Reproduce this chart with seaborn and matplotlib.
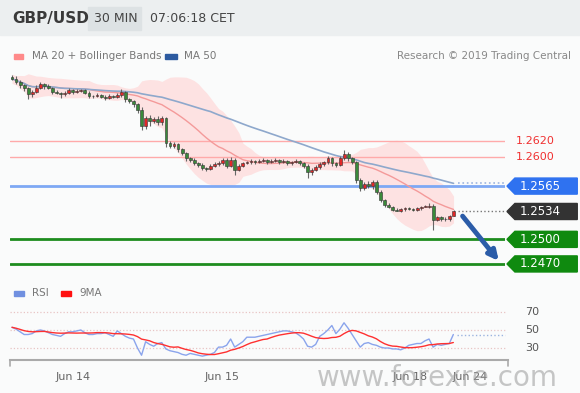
import matplotlib
matplotlib.use("Agg")
import matplotlib.pyplot as plt
import matplotlib.transforms as mtransforms
from matplotlib.patches import Rectangle, Polygon
import seaborn as sns
import numpy as np
import pandas as pd

sns.set_theme(style="white")
plt.rcParams["font.family"] = ["DejaVu Sans"]

# 30 min candles, GBP/USD
first_open = 1.2698
closes = [
    1.2696, 1.2692, 1.2688, 1.2685, 1.2677, 1.2680, 1.2685, 1.2690, 1.2687, 1.2685,
    1.2680, 1.2679, 1.2677, 1.2679, 1.2682, 1.2680, 1.2681, 1.2682, 1.2679, 1.2675,
    1.2675, 1.2676, 1.2674, 1.2672, 1.2675, 1.2674, 1.2676, 1.2680, 1.2671, 1.2669,
    1.2665, 1.2658, 1.2638, 1.2648, 1.2644, 1.2647, 1.2643, 1.2648, 1.2618, 1.2614,
    1.2616, 1.2610, 1.2605, 1.2599, 1.2597, 1.2593, 1.2591, 1.2587, 1.2586, 1.2590,
    1.2592, 1.2593, 1.2597, 1.2590, 1.2597, 1.2585, 1.2590, 1.2593, 1.2594, 1.2596,
    1.2594, 1.2596, 1.2597, 1.2594, 1.2596, 1.2597, 1.2594, 1.2596, 1.2593, 1.2594,
    1.2596, 1.2593, 1.2590, 1.2582, 1.2585, 1.2588, 1.2592, 1.2594, 1.2599, 1.2593,
    1.2591, 1.2599, 1.2604, 1.2599, 1.2594, 1.2572, 1.2563, 1.2568, 1.2565, 1.2570,
    1.2558, 1.2548, 1.2542, 1.2540, 1.2536, 1.2535, 1.2537, 1.2538, 1.2537, 1.2536,
    1.2538, 1.2540, 1.2540, 1.2541, 1.2524, 1.2527, 1.2525, 1.2525, 1.2529, 1.2534,
]
# wick lengths in pips above / below the body
wick_up = [
    2, 3, 2, 2, 1, 2, 3, 2, 1, 2,
    1, 2, 1, 2, 3, 1, 2, 2, 1, 2,
    1, 2, 1, 2, 2, 1, 2, 3, 1, 2,
    1, 2, 3, 2, 4, 2, 3, 2, 1, 2,
    3, 2, 2, 1, 2, 2, 1, 2, 1, 2,
    2, 3, 2, 2, 3, 2, 2, 1, 2, 2,
    1, 2, 2, 1, 2, 2, 1, 2, 1, 2,
    2, 1, 2, 2, 2, 3, 2, 2, 3, 2,
    2, 3, 5, 2, 2, 2, 3, 2, 3, 2,
    2, 2, 1, 2, 1, 2, 1, 2, 2, 1,
    2, 1, 2, 3, 2, 2, 1, 2, 1, 2,
]
wick_dn = [
    2, 2, 3, 4, 6, 3, 2, 2, 3, 2,
    3, 2, 4, 2, 2, 3, 2, 1, 2, 2,
    2, 1, 2, 2, 1, 2, 2, 2, 3, 2,
    3, 4, 5, 3, 6, 2, 3, 4, 5, 3,
    2, 3, 2, 3, 2, 2, 3, 2, 2, 1,
    2, 2, 2, 3, 2, 6, 2, 2, 1, 2,
    2, 1, 2, 2, 1, 2, 2, 1, 2, 2,
    1, 2, 3, 7, 3, 2, 2, 2, 2, 4,
    3, 2, 2, 3, 2, 3, 4, 3, 2, 3,
    3, 2, 3, 2, 2, 1, 2, 2, 1, 2,
    1, 2, 1, 2, 13, 2, 2, 2, 2, 1,
]
rsi = [
    53, 51, 48, 45, 45, 46, 49, 50, 49, 47,
    45, 44, 43, 46, 48, 48, 49, 50, 47, 45,
    45, 46, 46, 47, 45, 43, 49, 46, 43, 41,
    40, 30, 22, 37, 34, 32, 35, 36, 29, 27,
    26, 25, 23, 22, 24, 23, 22, 21, 22, 23,
    25, 31, 31, 33, 40, 31, 34, 37, 42, 42,
    42, 43, 44, 45, 46, 47, 48, 49, 49, 48,
    47, 44, 40, 32, 31, 34, 43, 46, 50, 55,
    46, 51, 58, 52, 45, 38, 31, 35, 36, 34,
    33, 31, 30, 30, 29, 29, 28, 30, 33, 34,
    35, 35, 38, 40, 31, 34, 33, 34, 35, 45,
]

resistances = [1.2620, 1.2600]
pivot = 1.2565
last_price = 1.2534
supports = [1.2500, 1.2470]
rsi_levels = [70, 50, 30]
date_labels = ["Jun 14", "Jun 15", "Jun 18", "Jun 24"]
date_pos = [15.1, 51.9, 98.3, 113.1]

GREEN_C = "#3a8a3a"
RED_C = "#e02828"
TAG_GREEN = "#0f8a0f"

df = pd.DataFrame({"close": closes})
df["open"] = [first_open] + closes[:-1]
df["high"] = df[["open", "close"]].max(axis=1) + np.array(wick_up) * 0.0001
df["low"] = df[["open", "close"]].min(axis=1) - np.array(wick_dn) * 0.0001
df["idx"] = np.arange(len(df))
df["ma20"] = df["close"].rolling(20, min_periods=1).mean()
sd = df["close"].rolling(20, min_periods=2).std().bfill()
df["bb_up"] = df["ma20"] + 2 * sd
df["bb_dn"] = df["ma20"] - 2 * sd
df["ma50"] = df["close"].rolling(50, min_periods=1).mean()
rs = pd.DataFrame({"idx": np.arange(len(rsi)), "rsi": rsi})
rs["ma9"] = rs["rsi"].rolling(9, min_periods=1).mean()

W, H = 580, 393
fig = plt.figure(figsize=(W / 100, H / 100), dpi=100)
fig.patch.set_facecolor("#fafbfb")

# header band
fig.patches.append(Rectangle((0, 1 - 35 / H), 1, 35 / H, transform=fig.transFigure,
                             color="#eceff0", zorder=0))
fig.patches.append(Rectangle((88 / W, 1 - 30 / H), 53 / W, 23 / H, transform=fig.transFigure,
                             color="#dde2e4", zorder=1))
fig.text(12 / W, 1 - 18 / H, "GBP/USD", fontsize=11, fontweight="bold", color="#3a3a3a", va="center")
fig.text(94 / W, 1 - 18 / H, "30 MIN", fontsize=9, color="#444", va="center")
fig.text(150 / W, 1 - 18 / H, "07:06:18 CET", fontsize=9, color="#444", va="center")

# legend row
fig.patches.append(Rectangle((14 / W, 1 - 59 / H), 9 / W, 5 / H, transform=fig.transFigure, color="#ff8a8a"))
fig.text(32 / W, 1 - 56 / H, "MA 20 + Bollinger Bands", fontsize=7.5, color="#777", va="center")
fig.patches.append(Rectangle((165 / W, 1 - 59 / H), 12 / W, 5 / H, transform=fig.transFigure, color="#2c5aa0"))
fig.text(184 / W, 1 - 56 / H, "MA 50", fontsize=7.5, color="#777", va="center")
fig.text(571 / W, 1 - 56 / H, "Research © 2019 Trading Central", fontsize=7.5, color="#888",
         va="center", ha="right")

# ---- price panel
ax = fig.add_axes([10 / W, 1 - 275 / H, 495 / W, 207 / H])
ax.set_facecolor("none")
ax.set_xlim(-0.49, 121.7)
ax.set_ylim(1.24565, 1.27091)
for s in ax.spines.values():
    s.set_visible(False)
ax.set_xticks([])
ax.set_yticks([])

ax.fill_between(df["idx"], df["bb_dn"], df["bb_up"], color="#ffdada", alpha=0.75, lw=0, zorder=1)
sns.lineplot(data=df, x="idx", y="ma20", ax=ax, color="#f49a9a", lw=1, zorder=2)
sns.lineplot(data=df, x="idx", y="ma50", ax=ax, color="#8ea8cc", lw=1.2, zorder=2)

for lv in resistances:
    ax.axhline(lv, color="#ffaaaa", lw=1, zorder=1)
ax.axhline(pivot, color="#7ea8f4", lw=2, zorder=1)
for lv in supports:
    ax.axhline(lv, color="#1e8c1e", lw=2, zorder=1)

xmax = ax.get_xlim()[1]
last = df["idx"].iloc[-1]
ax.hlines(df["ma50"].iloc[-1], last + 1, xmax, colors="#9bb4e0", linestyles=":", lw=1.2)
ax.hlines(last_price, last + 1, xmax, colors="#777", linestyles=":", lw=1)

# candles
up = df["close"] >= df["open"]
ax.vlines(df["idx"], df["low"], df["high"], color="#666", lw=0.8, zorder=3)
body = (df["close"] - df["open"]).abs().clip(lower=0.00004)
ax.bar(df["idx"], body, bottom=df[["open", "close"]].min(axis=1), width=0.7,
       color=np.where(up, RED_C, GREEN_C), edgecolor="#333", linewidth=0.4, zorder=4)

ax.annotate("", xy=(120.6, 1.2471), xytext=(110.8, 1.2531),
            arrowprops=dict(arrowstyle="-|>", color="#2b5ca8", lw=3.5, mutation_scale=14),
            annotation_clip=False, zorder=6)

# right side tags
tr = mtransforms.blended_transform_factory(ax.transAxes, ax.transData)
for lv in resistances:
    ax.text(1.022, lv, f"{lv:.4f}", transform=tr, color="#f03030", fontsize=8, va="center")
half = 0.00098
for lv, col in [(pivot, "#2f72f0"), (last_price, "#333333"),
                (supports[0], TAG_GREEN), (supports[1], TAG_GREEN)]:
    poly = Polygon([(1.004, lv), (1.020, lv + half), (1.146, lv + half),
                    (1.146, lv - half), (1.020, lv - half)],
                   closed=True, transform=tr, color=col, clip_on=False, zorder=5)
    ax.add_patch(poly)
    ax.text(1.030, lv, f"{lv:.4f}", transform=tr, color="white", fontsize=8.5,
            va="center", zorder=6)

# ---- RSI panel
ax2 = fig.add_axes([10 / W, 1 - 360 / H, 498 / W, 70 / H])
ax2.set_facecolor("none")
ax2.set_xlim(-0.49, 122.5)
ax2.set_ylim(16.7, 94.4)
for k in ["top", "right", "left"]:
    ax2.spines[k].set_visible(False)
ax2.spines["bottom"].set_color("#aaaaaa")
ax2.spines["bottom"].set_linewidth(1.5)
ax2.set_yticks([])
for lv in rsi_levels:
    ax2.hlines(lv, -0.49, 121.7, colors="#e8c4c4", lw=0.9, linestyles=":")
    ax2.text(1.034, lv, str(lv), transform=ax2.get_yaxis_transform(), fontsize=8,
             color="#555", va="center")
ax2.hlines(rsi[-1], len(rsi), 121.7, colors="#9bb4e0", linestyles=":", lw=1)
sns.lineplot(data=rs, x="idx", y="rsi", ax=ax2, color="#8aa4ec", lw=1)
sns.lineplot(data=rs, x="idx", y="ma9", ax=ax2, color="#ff3030", lw=1)
for xf in [0, 1]:
    ax2.plot([xf, xf], [0, -0.08], transform=ax2.transAxes, color="#aaaaaa", lw=1.2, clip_on=False)
ax2.set_xticks(date_pos)
ax2.set_xticklabels(date_labels, fontsize=8, color="#666")
ax2.tick_params(axis="x", length=0, pad=9)
ax2.set_xlabel("")
ax2.set_ylabel("")
ax.set_xlabel("")
ax.set_ylabel("")

fig.patches.append(Rectangle((14 / W, 1 - 296 / H), 10 / W, 5 / H, transform=fig.transFigure, color="#7090e0"))
fig.text(32 / W, 1 - 293 / H, "RSI", fontsize=7.5, color="#777", va="center")
fig.patches.append(Rectangle((61 / W, 1 - 296 / H), 10 / W, 5 / H, transform=fig.transFigure, color="#ff1010"))
fig.text(79 / W, 1 - 293 / H, "9MA", fontsize=7.5, color="#777", va="center")

fig.text(437 / W, 1 - 378 / H, "www.forexre.com", fontsize=20, color="#999999", alpha=0.55,
         ha="center", va="center")

fig.savefig("out.png", dpi=100, facecolor=fig.get_facecolor())
